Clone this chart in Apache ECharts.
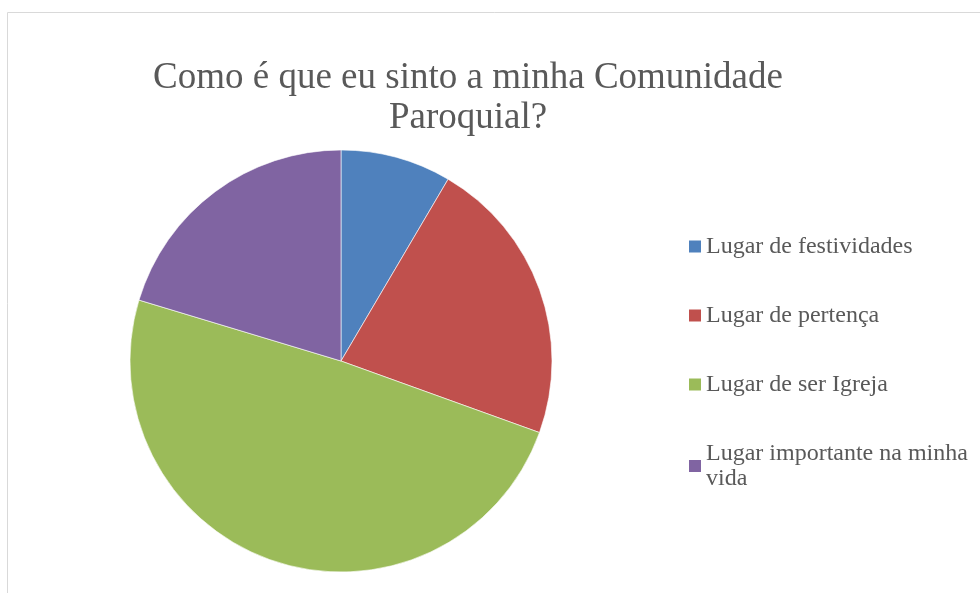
<!DOCTYPE html>
<html>
<head>
<meta charset="utf-8">
<script src="https://cdn.jsdelivr.net/npm/echarts@6/dist/echarts.min.js"></script>
<style>html,body{margin:0;padding:0;background:#fff;}#c{width:980px;height:593px;}</style>
</head>
<body>
<div id="c"></div>
<script>
var categories = ['Lugar de festividades', 'Lugar de pertença', 'Lugar de ser Igreja', 'Lugar importante na minha vida'];
var values = [5, 13, 29, 12];
var colors = ['#4F81BD', '#C0504D', '#9BBB59', '#8064A2'];

var chart = echarts.init(document.getElementById('c'), null, {renderer: 'canvas'});
chart.setOption({
  animation: false,
  color: colors,
  graphic: [{
    type: 'rect', left: 5, top: 10, silent: true,
    shape: {x: 0.5, y: 0.5, width: 1000, height: 620},
    style: {fill: 'none', stroke: '#d9d9d9', lineWidth: 1}
  }],
  title: {
    text: 'Como é que eu sinto a minha Comunidade\nParoquial?',
    left: 463, top: 53, textAlign: 'center',
    textStyle: {fontFamily: 'Liberation Serif', fontSize: 37, fontWeight: 'normal', color: '#595959', lineHeight: 40}
  },
  legend: {
    orient: 'vertical', left: 684, top: 229,
    itemWidth: 12, itemHeight: 12, itemGap: 44,
    icon: 'rect',
    itemStyle: {borderWidth: 0},
    data: categories,
    textStyle: {fontFamily: 'Liberation Serif', fontSize: 24, color: '#595959', lineHeight: 25, width: 275, overflow: 'break'}
  },
  series: [{
    type: 'pie',
    center: [341, 361], radius: 211,
    startAngle: 90, clockwise: true,
    label: {show: false}, labelLine: {show: false},
    itemStyle: {borderColor: '#fff', borderWidth: 0.6},
    emphasis: {disabled: true},
    data: categories.map(function (c, i) { return {name: c, value: values[i]}; })
  }]
});
</script>
</body>
</html>
